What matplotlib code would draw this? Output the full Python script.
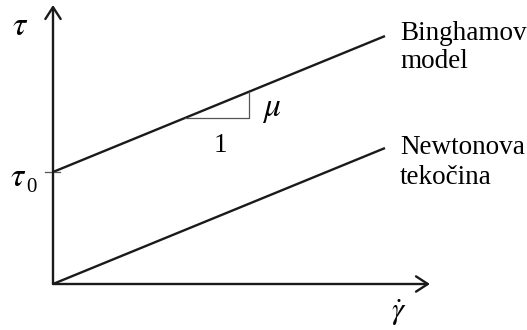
import matplotlib
matplotlib.use("Agg")
import matplotlib.pyplot as plt
import numpy as np

# ---- data (arbitrary units) ----
gamma = [0.0, 1.0]          # shear rate range
tau0 = 1.0                  # yield stress (Bingham)
mu = 1.214                  # viscosity (slope)
tri_gamma = [0.398, 0.590]  # slope triangle start / end on the Bingham line
labels_bingham = ["Binghamov", "model"]
labels_newton = ["Newtonova", "tekočina"]

tau_newton = [mu * g for g in gamma]
tau_bingham = [tau0 + mu * g for g in gamma]

W, H = 527, 330
plt.rcParams['mathtext.fontset'] = 'stix'
plt.rcParams['font.family'] = ['Liberation Serif', 'DejaVu Serif']

fig = plt.figure(figsize=(W / 100, H / 100), dpi=100)

def px(x, y):
    return x / W, 1 - y / H

# axes: origin at pixel (53,284), x arrow tip at 430, y arrow tip at 5
x0, y0, x1, y1 = 53, 284, 430, 5
ax = fig.add_axes([x0 / W, 1 - y0 / H, (x1 - x0) / W, (y0 - y1) / H])
ax.set_xlim(0, (x1 - x0) / 332.0)
ax.set_ylim(0, (y0 - y1) / 112.0)
ax.axis('off')

lw = 1.7
col = '#1a1a1a'
# axis arrows
for tip in [(1, 0), (0, 1)]:
    ax.annotate('', xy=tip, xytext=(0, 0), xycoords='axes fraction',
                arrowprops=dict(arrowstyle='->,head_length=0.85,head_width=0.55',
                                lw=lw, color=col, shrinkA=0, shrinkB=0),
                annotation_clip=False)

# lines
ax.plot(gamma, tau_bingham, color=col, lw=lw, solid_capstyle='butt', clip_on=False)
ax.plot(gamma, tau_newton, color=col, lw=lw, solid_capstyle='butt', clip_on=False)

# tau0 tick
ax.plot([-0.024, 0.021], [tau0, tau0], color='#555555', lw=0.9, clip_on=False)

# slope triangle
ya = tau0 + mu * tri_gamma[0]
yb = tau0 + mu * tri_gamma[1]
ax.plot([tri_gamma[0], tri_gamma[1], tri_gamma[1]], [ya, ya, yb],
        color='#555555', lw=0.9, clip_on=False)

fs = 19.5
gfs = 24
fig.text(*px(20, 27), r'$\tau$', fontsize=gfs, ha='center', va='center')
fig.text(*px(18, 178), r'$\tau$', fontsize=gfs, ha='center', va='center')
fig.text(*px(31, 187), '0', fontsize=15, ha='center', va='center')
fig.text(*px(272, 110), r'$\mu$', fontsize=gfs, ha='center', va='center')
fig.text(*px(220, 145), '1', fontsize=fs, ha='center', va='center')
fig.text(*px(399, 313), r'$\dot{\gamma}$', fontsize=22, ha='center', va='center')

fig.text(*px(400, 33), labels_bingham[0], fontsize=fs, ha='left', va='center')
fig.text(*px(400, 61), labels_bingham[1], fontsize=fs, ha='left', va='center')
fig.text(*px(400, 148), labels_newton[0], fontsize=fs, ha='left', va='center')
fig.text(*px(400, 177), labels_newton[1], fontsize=fs, ha='left', va='center')

fig.savefig('out.png', dpi=100)
